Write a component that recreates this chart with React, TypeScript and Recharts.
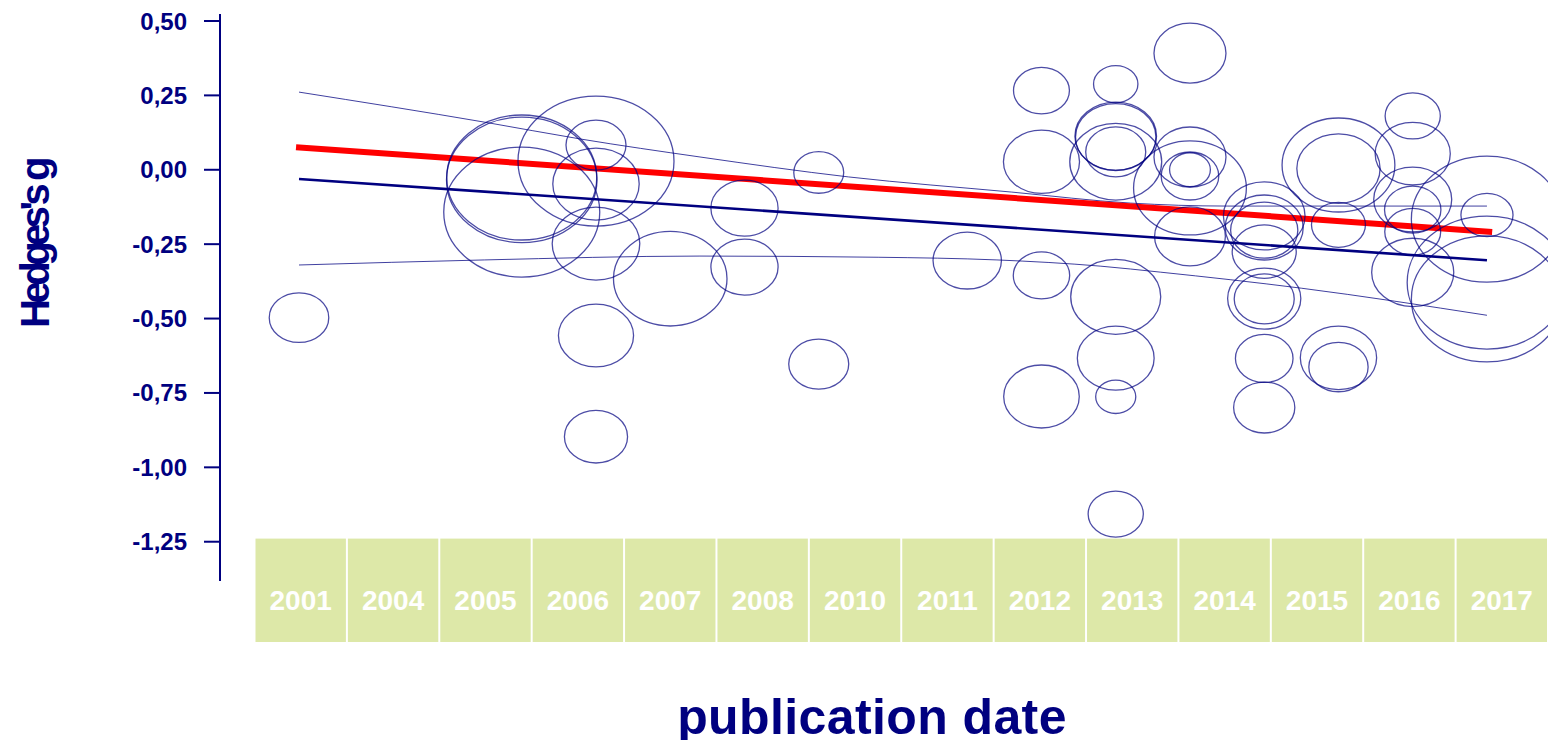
import {
  ComposedChart,
  Scatter,
  Line,
  XAxis,
  YAxis,
  ZAxis,
  Label,
} from "recharts";

// publication year of each study, its effect size (Hedges's g) and relative weight
const studyYears = [
  2001,
  2004, 2004, 2004,
  2005, 2005, 2005, 2005, 2005, 2005,
  2006,
  2007, 2007,
  2008, 2008,
  2010,
  2011, 2011, 2011, 2011,
  2012, 2012, 2012, 2012, 2012, 2012, 2012, 2012, 2012,
  2013, 2013, 2013, 2013, 2013, 2013,
  2014, 2014, 2014, 2014, 2014, 2014, 2014, 2014,
  2015, 2015, 2015, 2015, 2015,
  2016, 2016, 2016, 2016, 2016, 2016,
  2017, 2017, 2017, 2017,
];
const hedgesG = [
  -0.497,
  -0.026, -0.034, -0.142,
  0.029, 0.083, -0.048, -0.248, -0.557, -0.897,
  -0.366,
  -0.129, -0.327,
  -0.009, -0.653,
  -0.305,
  0.266, 0.027, -0.355, -0.762,
  0.288, 0.113, 0.11, 0.027, 0.06, -0.427, -0.633, -0.763, -1.157,
  0.392, 0.043, -0.021, 0.0, -0.061, -0.224,
  -0.155, -0.194, -0.203, -0.275, -0.433, -0.434, -0.634, -0.799,
  0.016, 0.004, -0.185, -0.632, -0.663,
  0.181, 0.054, -0.1, -0.134, -0.208, -0.345,
  -0.152, -0.166, -0.379, -0.434,
];
const studyWeights = [
  6.15,
  39.06, 39.31, 42.25,
  42.25, 6.25, 12.96, 13.32, 9.8, 6.92,
  22.37,
  7.84, 7.84,
  4.33, 6.25,
  8.12,
  5.43, 10.05, 5.52, 9.92,
  3.42, 11.56, 11.22, 14.67, 6.25, 14.06, 10.24, 2.79, 5.29,
  9.0, 9.0, 5.76, 2.89, 22.09, 8.7,
  11.56, 10.56, 7.84, 7.13, 9.3, 6.25, 5.76, 6.5,
  22.09, 12.04, 5.06, 10.11, 6.1,
  5.29, 9.8, 10.56, 5.52, 5.43, 11.7,
  4.71, 39.69, 44.22, 39.69,
];

// regression lines
const fitYears = [2001, 2017];
const fitValues = [-0.031, -0.304];
const metaYears = [2000.96, 2017.07];
const metaValues = [0.076, -0.209];

// confidence band
const upperYears = [2001, 2003.5, 2004.8, 2006.4, 2008.4, 2010.6, 2012.2, 2013.5, 2017];
const upperValues = [0.261, 0.16, 0.103, 0.043, -0.024, -0.075, -0.112, -0.122, -0.122];
const lowerYears = [2001, 2003.5, 2006.4, 2008.8, 2010.4, 2011.8, 2012.6, 2014.5, 2017];
const lowerValues = [-0.32, -0.303, -0.29, -0.294, -0.303, -0.324, -0.344, -0.398, -0.489];

const yearLabels = [
  "2001", "2004", "2005", "2006", "2007", "2008", "2010",
  "2011", "2012", "2013", "2014", "2015", "2016", "2017",
];
const yTicks = [0.5, 0.25, 0, -0.25, -0.5, -0.75, -1, -1.25];

const NAVY = "#000080";
const FONT = '"Liberation Sans", Arial, Helvetica, sans-serif';

const studies = studyYears.map((year, i) => ({
  year,
  g: hedgesG[i],
  weight: studyWeights[i],
}));
const toSeries = (xs: number[], ys: number[]) =>
  xs.map((year, i) => ({ year, g: ys[i] }));

const boxTicks = yearLabels.map((_, i) => i + 0.5);
// anchors the label row axis so it gets a scale
const boxAnchors = boxTicks.map((box) => ({ box, g: -1.25 }));

const Bubble = (props: any) => {
  const { cx, cy } = props;
  const size = props.size ?? props.payload.weight * 100;
  const ry = Math.sqrt(size);
  return (
    <ellipse
      cx={cx}
      cy={cy}
      rx={ry * 1.2}
      ry={ry}
      fill="none"
      stroke={NAVY}
      strokeOpacity={0.7}
      strokeWidth={1.3}
    />
  );
};

const BoxTick = (props: any) => {
  const { x, y, payload } = props;
  const label = yearLabels[Math.round(payload.value - 0.5)];
  return (
    <g>
      <rect x={x - 45.2} y={y - 72.4} width={90.4} height={103.4} fill="#dde8a8" />
      <text
        x={x}
        y={y - 1.2}
        textAnchor="middle"
        fill="#ffffff"
        fontSize={28}
        fontWeight="bold"
        fontFamily={FONT}
      >
        {label}
      </text>
    </g>
  );
};

const YTitle = (props: any) => {
  const vb = props.viewBox;
  const x = vb.x + 49;
  const y = vb.y + vb.height / 2 - 53;
  return (
    <text
      x={x}
      y={y}
      transform={`rotate(-90 ${x} ${y})`}
      textAnchor="middle"
      fill={NAVY}
      fontSize={40}
      fontWeight="bold"
      fontFamily={FONT}
      letterSpacing={-4.5}
    >
      Hedges's g
    </text>
  );
};

const XTitle = () => (
  <text
    x={872}
    y={734}
    textAnchor="middle"
    fill={NAVY}
    fontSize={50}
    fontWeight="bold"
    fontFamily={FONT}
    letterSpacing={0.4}
  >
    publication date
  </text>
);

export default function App() {
  return (
    <div style={{ position: "absolute", left: 0, top: 0 }}>
      <ComposedChart
        width={1554}
        height={740}
        margin={{ top: 14, right: 6, bottom: 0, left: 0 }}
        style={{ fontFamily: FONT }}
      >
        <XAxis
          dataKey="year"
          type="number"
          domain={[1999.936, 2017.822]}
          allowDataOverflow
          hide
        />
        <XAxis
          xAxisId="boxes"
          dataKey="box"
          type="number"
          domain={[-0.3734, 14]}
          allowDataOverflow
          ticks={boxTicks}
          interval={0}
          height={159}
          axisLine={false}
          tickLine={false}
          tickSize={0}
          tickMargin={0}
          tick={<BoxTick />}
        >
          <Label content={<XTitle />} />
        </XAxis>
        <YAxis
          dataKey="g"
          type="number"
          domain={[-1.382, 0.5235]}
          allowDataOverflow
          ticks={yTicks}
          interval={0}
          width={220}
          axisLine={{ stroke: NAVY, strokeWidth: 2 }}
          tickLine={{ stroke: NAVY, strokeWidth: 2 }}
          tickSize={16}
          tickMargin={17}
          tick={{ fill: NAVY, fontSize: 24, fontWeight: "bold", fontFamily: FONT }}
          tickFormatter={(v: number) => v.toFixed(2).replace(".", ",")}
        >
          <Label content={<YTitle />} />
        </YAxis>
        <ZAxis dataKey="weight" type="number" domain={[0, 50]} range={[0, 5000]} />
        <Scatter
          xAxisId="boxes"
          data={boxAnchors}
          shape={() => <g />}
          legendType="none"
          isAnimationActive={false}
        />
        <Scatter data={studies} shape={<Bubble />} isAnimationActive={false} />
        <Line
          data={toSeries(upperYears, upperValues)}
          dataKey="g"
          type="monotone"
          stroke={NAVY}
          strokeOpacity={0.75}
          strokeWidth={1}
          dot={false}
          isAnimationActive={false}
        />
        <Line
          data={toSeries(lowerYears, lowerValues)}
          dataKey="g"
          type="monotone"
          stroke={NAVY}
          strokeOpacity={0.75}
          strokeWidth={1}
          dot={false}
          isAnimationActive={false}
        />
        <Line
          data={toSeries(fitYears, fitValues)}
          dataKey="g"
          type="linear"
          stroke={NAVY}
          strokeWidth={2.6}
          dot={false}
          isAnimationActive={false}
        />
        <Line
          data={toSeries(metaYears, metaValues)}
          dataKey="g"
          type="linear"
          stroke="#ff0000"
          strokeWidth={6}
          dot={false}
          isAnimationActive={false}
        />
      </ComposedChart>
    </div>
  );
}
